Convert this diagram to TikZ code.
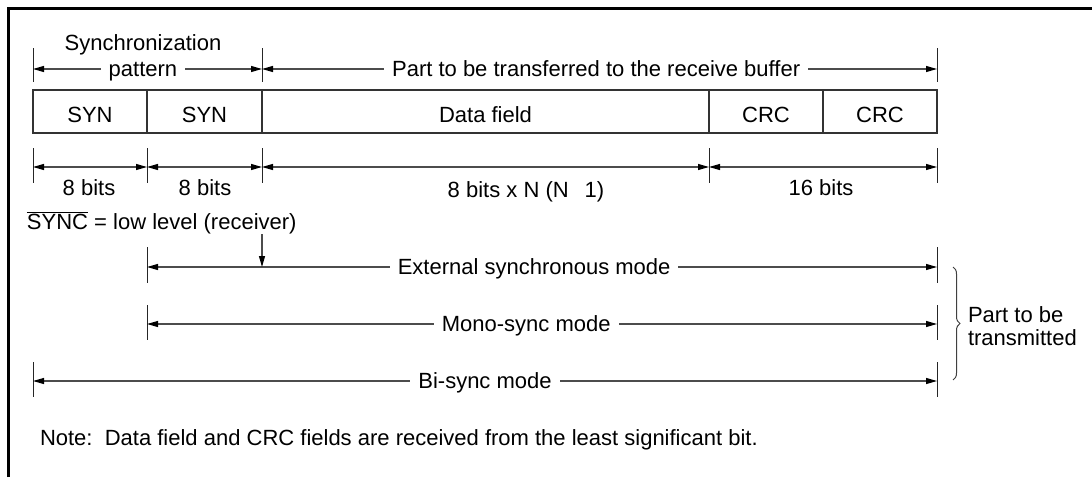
\documentclass[tikz,border=0pt]{standalone}
\usepackage{fontspec}
\setmainfont{Liberation Sans}
\usetikzlibrary{arrows.meta,decorations.pathreplacing}
\begin{document}
\begin{tikzpicture}[x=1pt,y=-1pt,
  every node/.style={font=\fontsize{22}{23}\selectfont, inner sep=0pt, outer sep=0pt},
  cell/.style={draw=black!80, line width=1.4pt, minimum height=43pt, text height=22pt, text depth=0pt, anchor=west},
  ticks/.style={draw=black!85, line width=1pt},
  dim/.style={draw=black!70, line width=1.1pt},
  tipboth/.style={{Triangle[length=11pt,width=6pt,black]}-{Triangle[length=11pt,width=6pt,black]}},
  tipend/.style={-{Triangle[length=11pt,width=6pt,black]}},
  lbl/.style={fill=white, inner xsep=8pt, text height=17pt, text depth=3pt},
  under/.style={anchor=base}
]
\useasboundingbox (0,0) rectangle (1092,477);
% frame
\draw[line width=3pt] (8,477) -- (8,8) -- (1092,8);

% cells
\node[cell, minimum width=114pt] (syn1) at (33,111.5) {SYN};
\node[cell, minimum width=115pt] (syn2) at (147,111.5) {SYN};
\node[cell, minimum width=447pt] (data) at (262,111.5) {Data field};
\node[cell, minimum width=114pt] (crc1) at (709,111.5) {CRC};
\node[cell, minimum width=114pt] (crc2) at (823,111.5) {CRC};

% top dimension
\foreach \x in {33,262,937} \draw[ticks] (\x,48) -- (\x,82);
\coordinate (T0) at (33,69);
\coordinate (T2) at (262,69);
\coordinate (T5) at (937,69);
\node[under] (synclbl) at (143,50) {Synchronization};
\draw[dim, tipboth] (T0) -- node[lbl, pos=0.48] (pat) {pattern} (T2);
\draw[dim, tipboth] (T2) -- node[lbl, pos=0.495] (part) {Part to be transferred to the receive buffer} (T5);

% bit-length dimension
\foreach \x in {33,147,262,709,937} \draw[ticks] (\x,148) -- (\x,183);
\coordinate (B0) at (33,167);
\coordinate (B1) at (147,167);
\coordinate (B2) at (262,167);
\coordinate (B3) at (709,167);
\coordinate (B5) at (937,167);
\draw[dim, tipboth] (B0) -- (B1);
\draw[dim, tipboth] (B1) -- (B2);
\draw[dim, tipboth] (B2) -- (B3);
\draw[dim, tipboth] (B3) -- (B5);
\node[under] (b1) at (89,195) {8 bits};
\node[under] (b2) at (205,195) {8 bits};
\node[under] (b3) at (526,197) {8 bits x N (N\hspace{16pt}1)};
\node[under] (b4) at (821,195) {16 bits};

% SYNC
\node[anchor=base west] (sync) at (27,229) {$\overline{\mbox{SYNC}}$ = low level (receiver)};
\coordinate (sa) at (262,234);

% modes
\foreach \x in {147,937} \draw[ticks] (\x,247) -- (\x,283);
\foreach \x in {147,937} \draw[ticks] (\x,305) -- (\x,340);
\foreach \x in {33,937} \draw[ticks] (\x,362) -- (\x,397);
\coordinate (E0) at (147,267);
\coordinate (E2) at (262,267);
\coordinate (E5) at (937,267);
\coordinate (M0) at (147,324);
\coordinate (M5) at (937,324);
\coordinate (S0) at (33,381);
\coordinate (S5) at (937,381);
\draw[dim, tipboth] (E0) -- node[lbl, pos=0.49] (ext) {External synchronous mode} (E5);
\draw[dim, tipend] (sa) -- (E2);
\draw[dim, tipboth] (M0) -- node[lbl, pos=0.48] (mono) {Mono-sync mode} (M5);
\draw[dim, tipboth] (S0) -- node[lbl, pos=0.5] (bi) {Bi-sync mode} (S5);

% brace
\draw[black!75, line width=1pt, decorate, decoration={brace, amplitude=7pt}] (953,267) -- (953,380);
\node[anchor=west, align=left] (ptbt) at (968,326) {Part to be\\transmitted};

% note
\node[anchor=base west] (note) at (40,445) {Note:\ \ Data field and CRC fields are received from the least significant bit.};
\end{tikzpicture}
\end{document}
